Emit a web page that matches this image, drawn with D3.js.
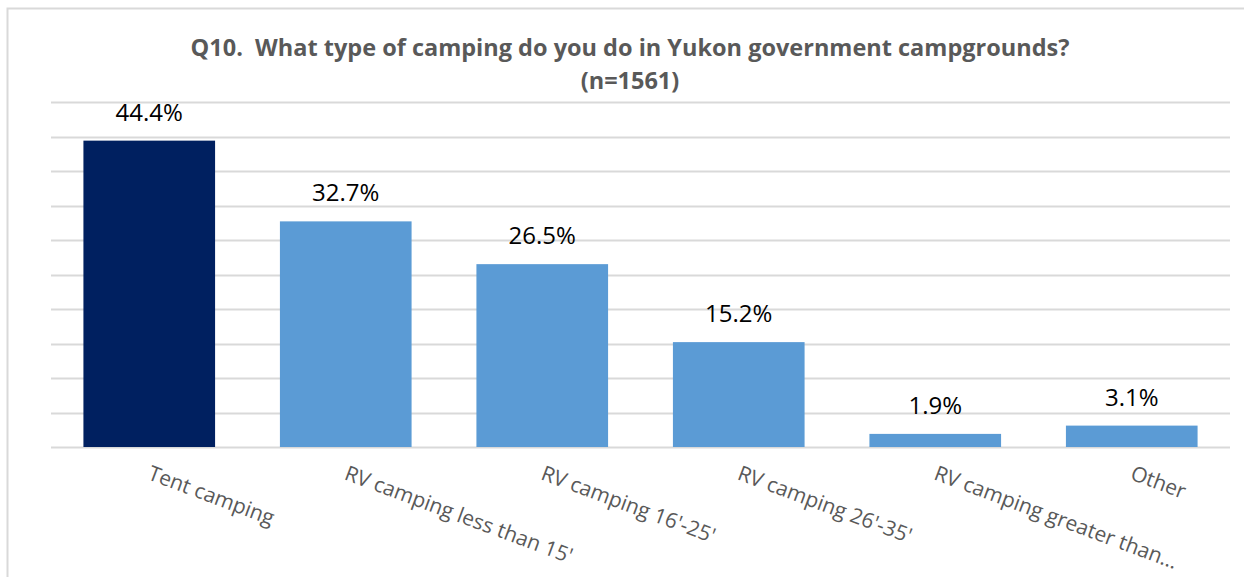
<!DOCTYPE html>
<html>
<head>
<meta charset="utf-8">
<script src="https://cdn.jsdelivr.net/npm/d3@7"></script>
<style>
  body { margin: 0; background: #fff; }
  text { font-family: "Open Sans", "Noto Sans", sans-serif; }
</style>
</head>
<body>
<div id="chart"></div>
<script>
// chart data
const categories = ["Tent camping", "RV camping less than 15'", "RV camping 16'-25'",
  "RV camping 26'-35'", "RV camping greater than…", "Other"];
const values = [44.4, 32.7, 26.5, 15.2, 1.9, 3.1];
const barColors = ["#002060", "#5b9bd5", "#5b9bd5", "#5b9bd5", "#5b9bd5", "#5b9bd5"];
const gridTicks = [0, 5, 10, 15, 20, 25, 30, 35, 40, 45, 50];
const titleLines = ["Q10.  What type of camping do you do in Yukon government campgrounds?", "(n=1561)"];

const width = 1244, height = 577;
const margin = { left: 51, right: 14, top: 102, bottom: 130 };

let svg = d3.select("#chart").append("svg")
    .attr("width", width)
    .attr("height", height);

// outer chart border
svg.append("rect")
    .attr("x", 7.5).attr("y", 8.5)
    .attr("width", 1260).attr("height", 620)
    .attr("fill", "none")
    .attr("stroke", "#d9d9d9")
    .attr("stroke-width", 2);

let x = d3.scaleBand()
    .domain(categories)
    .range([margin.left, width - margin.right])
    .paddingInner(0.33)
    .paddingOuter(0.165);

let y = d3.scaleLinear()
    .domain([0, 50])
    .range([height - margin.bottom, margin.top]);

// gridlines
svg.append("g")
    .selectAll("line")
    .data(gridTicks)
    .enter()
    .append("line")
    .attr("x1", margin.left)
    .attr("x2", width - margin.right)
    .attr("y1", function (d) { return Math.round(y(d)) + 0.5; })
    .attr("y2", function (d) { return Math.round(y(d)) + 0.5; })
    .attr("stroke", "#d9d9d9")
    .attr("stroke-width", 2);

// title
svg.append("text")
    .attr("x", 630)
    .attr("y", 56)
    .attr("text-anchor", "middle")
    .attr("font-size", 23.5)
    .attr("font-weight", "bold")
    .attr("fill", "#595959")
    .style("white-space", "pre")
    .selectAll("tspan")
    .data(titleLines)
    .enter()
    .append("tspan")
    .attr("x", 630)
    .attr("dy", function (d, i) { return i === 0 ? 0 : 33; })
    .text(function (d) { return d; });

// bars
svg.append("g")
    .selectAll("rect")
    .data(values)
    .enter()
    .append("rect")
    .attr("x", function (d, i) { return x(categories[i]); })
    .attr("y", function (d) { return y(d); })
    .attr("width", x.bandwidth())
    .attr("height", function (d) { return y(0) - y(d); })
    .attr("fill", function (d, i) { return barColors[i]; });

// value labels
svg.append("g")
    .selectAll("text")
    .data(values)
    .enter()
    .append("text")
    .attr("x", function (d, i) { return x(categories[i]) + x.bandwidth() / 2; })
    .attr("y", function (d) { return y(d) - 20; })
    .attr("text-anchor", "middle")
    .attr("font-size", 24)
    .attr("fill", "#000")
    .text(function (d) { return d.toFixed(1) + "%"; });

// category labels, rotated
svg.append("g")
    .selectAll("text")
    .data(categories)
    .enter()
    .append("text")
    .attr("transform", function (d) {
        return "translate(" + (x(d) + x.bandwidth() / 2) + "," + (y(0) + 25) + ") rotate(20.5)";
    })
    .attr("dy", "0.35em")
    .attr("font-size", 21)
    .attr("fill", "#595959")
    .text(function (d) { return d; });
</script>
</body>
</html>
